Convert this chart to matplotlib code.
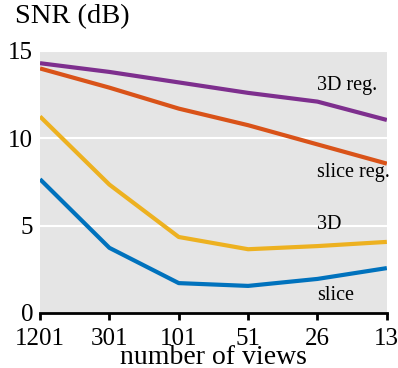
import matplotlib.pyplot as plt

plt.rcParams['font.family'] = ['Liberation Serif', 'DejaVu Serif']

views = ['1201', '301', '101', '51', '26', '13']
snr_3d_reg = [14.3, 13.8, 13.2, 12.6, 12.1, 11.05]
snr_slice_reg = [14.0, 12.9, 11.7, 10.75, 9.65, 8.55]
snr_3d = [11.25, 7.35, 4.35, 3.65, 3.83, 4.07]
snr_slice = [7.66, 3.73, 1.71, 1.55, 1.95, 2.57]

x = range(len(views))

fig = plt.figure(figsize=(3.98, 3.68), dpi=100)
ax = fig.add_axes([0.1005, 0.1495, 0.8715, 0.712])
ax.set_facecolor('#e5e5e5')

ax.plot(x, snr_3d_reg, color='#7e2f8e', lw=3, solid_capstyle='butt')
ax.plot(x, snr_slice_reg, color='#d95319', lw=3, solid_capstyle='butt')
ax.plot(x, snr_3d, color='#edb120', lw=3, solid_capstyle='butt')
ax.plot(x, snr_slice, color='#0072bd', lw=3, solid_capstyle='butt')

ax.set_xlim(0, 5)
ax.set_ylim(0, 15)
ax.set_yticks([0, 5, 10, 15])
ax.set_xticks(list(x))
ax.set_xticklabels(views)
ax.yaxis.grid(True, color='white', lw=1.5)
ax.set_axisbelow(True)
for s in ['top', 'right', 'left']:
    ax.spines[s].set_visible(False)
ax.spines['bottom'].set_linewidth(2)
ax.tick_params(axis='y', length=0, labelsize=18, pad=5)
ax.tick_params(axis='x', length=5, width=2, labelsize=18, pad=6)
ax.set_xlabel('number of views', fontsize=20, labelpad=-4)

fig.text(0.038, 0.955, 'SNR (dB)', fontsize=20.5, va='center', ha='left')

ax.text(4, 13.0, '3D reg.', fontsize=14.5, va='center')
ax.text(4, 8.05, 'slice reg.', fontsize=14.5, va='center')
ax.text(4, 5.05, '3D', fontsize=14.5, va='center')
ax.text(4, 1.0, 'slice', fontsize=14.5, va='center')

fig.savefig('out.png', dpi=100)
